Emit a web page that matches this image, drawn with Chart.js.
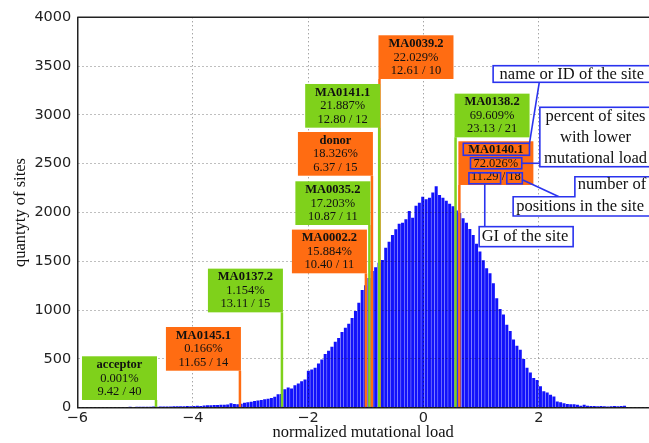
<!DOCTYPE html>
<html>
<head>
<meta charset="utf-8">
<script src="https://cdn.jsdelivr.net/npm/chart.js@4.4.1/dist/chart.umd.min.js"></script>
<style>
  html, body { margin: 0; padding: 0; background: #fff; }
  #wrap { width: 649px; height: 443px; }
</style>
</head>
<body>
<div id="wrap"><canvas id="hist"></canvas></div>
<script>
// histogram of normalized mutational load, 150 equal bins
const binStart = -5.23;
const binWidth = 0.0583;
const siteCounts = [
  8, 7, 9, 8, 10, 9, 10, 11, 10, 12,
  11, 12, 12, 13, 12, 14, 15, 14, 16, 17,
  16, 18, 19, 18, 22, 26, 24, 28, 27, 31,
  30, 34, 45, 38, 36, 40, 50, 57, 62, 69,
  74, 80, 86, 92, 100, 112, 137, 140, 190, 208,
  198, 230, 249, 270, 290, 379, 392, 410, 454, 495,
  550, 584, 625, 676, 715, 775, 820, 860, 920, 990,
  1075, 1206, 1255, 1330, 1400, 1440, 1485, 1513, 1640, 1700,
  1770, 1828, 1884, 1895, 1930, 2015, 1945, 2070, 2100, 2162,
  2135, 2150, 2205, 2268, 2179, 2150, 2120, 2090, 2065, 2020,
  1995, 1940, 1895, 1830, 1770, 1680, 1600, 1510, 1430, 1377,
  1274, 1121, 1010, 955, 850, 785, 700, 635, 595, 500,
  410, 360, 305, 285, 220, 168, 155, 132, 115, 64,
  56, 46, 39, 36, 35, 31, 21, 29, 20, 18,
  17, 16, 17, 14, 13, 15, 17, 16, 18, 20
];

// annotated sites, sorted by percentile
const siteNames   = ['acceptor', 'MA0145.1', 'MA0137.2', 'MA0002.2', 'MA0035.2', 'donor', 'MA0141.1', 'MA0039.2', 'MA0138.2', 'MA0140.1'];
const siteLoad    = [-4.636, -3.181, -2.453, -0.997, -0.937, -0.893, -0.767, -0.762, 0.557, 0.623];
const sitePercent = [0.001, 0.166, 1.154, 15.884, 17.203, 18.326, 21.887, 22.029, 69.609, 72.026];
const siteGI      = [9.42, 11.65, 13.11, 10.40, 10.87, 6.37, 12.80, 12.61, 23.13, 11.29];
const siteLength  = [40, 14, 15, 11, 11, 15, 12, 10, 21, 18];

// where each label box sits: height of its lower edge (in counts) and side of the line
const labelY    = [79, 379, 977, 1377, 1872, 2377, 2869, 3368, 2770, 2282];
const labelSide = ['left', 'left', 'left', 'left', 'left', 'left', 'left', 'right', 'right', 'right'];
const drawOrder = [0, 1, 2, 3, 4, 5, 7, 6, 8, 9];
const explained = 9; // site whose label parts are described by the blue notes

// blue notes describing the label parts (data coordinates)
const noteLayout = {
  name:    { left: 1.208, top: 3504, bottom: 3334, hookX: 2.008 },
  percent: { left: 2.018, top: 3078, bottom: 2469, textX: 2.983 },
  number:  { left: 2.625, lowLeft: 1.555, top: 2367, step: 2162, bottom: 1964, hookX: 2.35 },
  gi:      { left: 0.966, right: 2.595, top: 1855, bottom: 1650 }
};
const noteText = {
  name: ['name or ID of the site'],
  percent: ['percent of sites', 'with lower', 'mutational load'],
  number: ['number of', 'positions in the site'],
  gi: ['GI of the site']
};

const GREEN = '#7fd11b';
const ORANGE = '#ff6c12';
const NOTE_BLUE = '#2a33ee';
const SERIF = "'Liberation Serif', 'Times New Roman', serif";
const BOX_W = 75, BOX_H = 43.7;

const bars = siteCounts.map((v, i) => ({ x: binStart + (i + 0.5) * binWidth, y: v }));

const minusLabel = v => (v < 0 ? '\u2212' + Math.abs(v) : String(v));

const frame = {
  id: 'frame',
  afterDraw(chart) {
    const { ctx, chartArea: a } = chart;
    ctx.save();
    ctx.strokeStyle = '#222';
    ctx.lineWidth = 1.5;
    ctx.beginPath();
    ctx.moveTo(a.left, a.top);
    ctx.lineTo(a.right, a.top);
    ctx.stroke();
    ctx.restore();
  }
};

// vertical site lines with their coloured label boxes, drawn above the grid
const siteLabels = {
  id: 'siteLabels',
  afterDraw(chart) {
    const { ctx, scales: { x, y } } = chart;
    const base = y.getPixelForValue(0);
    const boxes = siteNames.map((name, i) => {
      const lx = x.getPixelForValue(siteLoad[i]);
      const bottom = y.getPixelForValue(labelY[i]);
      const left = labelSide[i] === 'left' ? lx + 1 - BOX_W : lx - 1;
      return { lx, bottom, top: bottom - BOX_H, left, color: i % 2 ? ORANGE : GREEN };
    });

    ctx.save();
    ctx.lineWidth = 2.5;
    drawOrder.forEach(i => {
      const b = boxes[i];
      ctx.strokeStyle = b.color;
      ctx.beginPath();
      ctx.moveTo(b.lx, b.bottom);
      ctx.lineTo(b.lx, base - 0.8);
      ctx.stroke();
    });

    const parts = {};
    ctx.textAlign = 'center';
    ctx.textBaseline = 'middle';
    drawOrder.forEach(i => {
      const b = boxes[i];
      ctx.fillStyle = b.color;
      ctx.fillRect(b.left, b.top, BOX_W, BOX_H);
      const cx = b.left + BOX_W / 2;
      const pct = sitePercent[i].toFixed(3) + '%';
      const gi = siteGI[i].toFixed(2);
      const len = String(siteLength[i]);
      const third = gi + ' / ' + len;
      ctx.fillStyle = '#111';
      ctx.font = 'bold 12.5px ' + SERIF;
      ctx.fillText(siteNames[i], cx, b.top + 8.5);
      const nameW = ctx.measureText(siteNames[i]).width;
      ctx.font = '12.5px ' + SERIF;
      ctx.fillText(pct, cx, b.top + 22);
      ctx.fillText(third, cx, b.top + 35.5);
      if (i === explained) {
        const pctW = ctx.measureText(pct).width;
        const fullW = ctx.measureText(third).width;
        const giW = ctx.measureText(gi).width;
        const lenW = ctx.measureText(len).width;
        const x0 = cx - fullW / 2;
        parts.name = { l: cx - nameW / 2 - 5, r: cx + nameW / 2 + 6, t: b.top + 2, b: b.top + 14 };
        parts.pct = { l: cx - pctW / 2 - 3, r: cx + pctW / 2 + 3.5, t: b.top + 16.5, b: b.top + 27.5 };
        parts.gi = { l: x0 - 2, r: x0 + giW + 2, t: b.top + 31.5, b: b.top + 42.5 };
        parts.len = { l: x0 + fullW - lenW - 1.5, r: x0 + fullW + 1.5, t: b.top + 31.5, b: b.top + 42.5 };
      }
    });

    // blue notes explaining one label
    const px = v => x.getPixelForValue(v);
    const py = v => y.getPixelForValue(v);
    const farRight = chart.width + 10;
    ctx.strokeStyle = NOTE_BLUE;
    ctx.lineWidth = 1.6;
    Object.values(parts).forEach(r => ctx.strokeRect(r.l, r.t, r.r - r.l, r.b - r.t));

    const line = (x1, y1, x2, y2) => {
      ctx.beginPath();
      ctx.moveTo(x1, y1);
      ctx.lineTo(x2, y2);
      ctx.stroke();
    };
    const N = noteLayout;
    line(px(N.name.hookX), py(N.name.bottom), parts.name.r, parts.name.t);
    const pm = (parts.pct.t + parts.pct.b) / 2;
    line(parts.pct.r, pm, px(N.percent.left), pm);
    line(parts.len.r, parts.len.t + 7, px(N.number.hookX), py(N.number.step));
    const gx = (parts.gi.l + parts.gi.r) / 2;
    line(gx, parts.gi.b, gx, py(N.gi.top));

    const noteBox = (l, t, r, b) => {
      ctx.fillStyle = '#fff';
      ctx.fillRect(l, t, r - l, b - t);
      ctx.strokeRect(l, t, r - l, b - t);
    };
    noteBox(px(N.name.left), py(N.name.top), farRight, py(N.name.bottom));
    noteBox(px(N.percent.left), py(N.percent.top), farRight, py(N.percent.bottom));
    noteBox(px(N.gi.left), py(N.gi.top), px(N.gi.right), py(N.gi.bottom));

    // stepped box for the "number of positions" note
    const nl = px(N.number.left), nll = px(N.number.lowLeft);
    const nt = py(N.number.top), ns = py(N.number.step), nb = py(N.number.bottom);
    ctx.beginPath();
    ctx.moveTo(farRight, nt);
    ctx.lineTo(nl, nt);
    ctx.lineTo(nl, ns);
    ctx.lineTo(nll, ns);
    ctx.lineTo(nll, nb);
    ctx.lineTo(farRight, nb);
    ctx.closePath();
    ctx.fillStyle = '#fff';
    ctx.fill();
    ctx.stroke();

    ctx.fillStyle = '#111';
    ctx.font = '16.5px ' + SERIF;
    ctx.textBaseline = 'middle';
    ctx.textAlign = 'left';
    const nameTop = py(N.name.top), nameBot = py(N.name.bottom);
    ctx.fillText(noteText.name[0], px(N.name.left) + 6.5, (nameTop + nameBot) / 2 + 0.5);
    ctx.fillText(noteText.number[0], nl + 3, nt + 8);
    ctx.fillText(noteText.number[1], nll + 3, ns + 9.5);
    const giTop = py(N.gi.top), giBot = py(N.gi.bottom);
    ctx.fillText(noteText.gi[0], px(N.gi.left) + 2.5, (giTop + giBot) / 2 + 0.5);
    ctx.textAlign = 'center';
    const pTop = py(N.percent.top);
    noteText.percent.forEach((t, k) => ctx.fillText(t, px(N.percent.textX), pTop + 9.8 + k * 20.6));
    ctx.restore();
  }
};

new Chart(document.getElementById('hist'), {
  type: 'bar',
  data: {
    datasets: [{
      data: bars,
      backgroundColor: '#1212fb',
      borderWidth: 0,
      barPercentage: 0.9,
      categoryPercentage: 1
    }]
  },
  options: {
    responsive: true,
    maintainAspectRatio: false,
    animation: false,
    events: [],
    layout: { padding: { left: 0, top: 17.3, right: 0, bottom: 0 } },
    plugins: { legend: { display: false }, tooltip: { enabled: false } },
    scales: {
      x: {
        type: 'linear',
        min: -6,
        max: 3.91,
        offset: false,
        afterBuildTicks: s => { s.ticks = s.ticks.filter(t => Math.abs(t.value % 2) < 1e-9); },
        afterFit: s => { s.height = 35.3; },
        ticks: {
          stepSize: 2,
          padding: 2,
          color: '#222',
          font: { family: "'DejaVu Sans', sans-serif", size: 14.5 },
          callback: minusLabel,
          maxRotation: 0
        },
        grid: { color: 'rgba(0,0,0,0.5)', lineWidth: 1, drawTicks: false, offset: false, z: 1 },
        border: { color: '#222', width: 1.5, dash: [1, 3], z: 1 },
        title: {
          display: true,
          text: 'normalized mutational load',
          color: '#111',
          font: { family: SERIF, size: 16.5 },
          padding: { top: 0, bottom: 0 }
        }
      },
      y: {
        min: 0,
        max: 4000,
        afterFit: s => { s.width = 77.3; },
        ticks: {
          stepSize: 500,
          padding: 6,
          color: '#222',
          font: { family: "'DejaVu Sans', sans-serif", size: 14.5 },
          callback: v => String(v)
        },
        grid: { color: 'rgba(0,0,0,0.5)', lineWidth: 1, drawTicks: false, z: 1 },
        border: { color: '#222', width: 1.5, dash: [1, 3], z: 1 },
        title: {
          display: true,
          text: 'quantyty of sites',
          color: '#111',
          font: { family: SERIF, size: 16.5 },
          padding: { top: 10.5, bottom: 0 }
        }
      }
    }
  },
  plugins: [frame, siteLabels]
});
</script>
</body>
</html>
